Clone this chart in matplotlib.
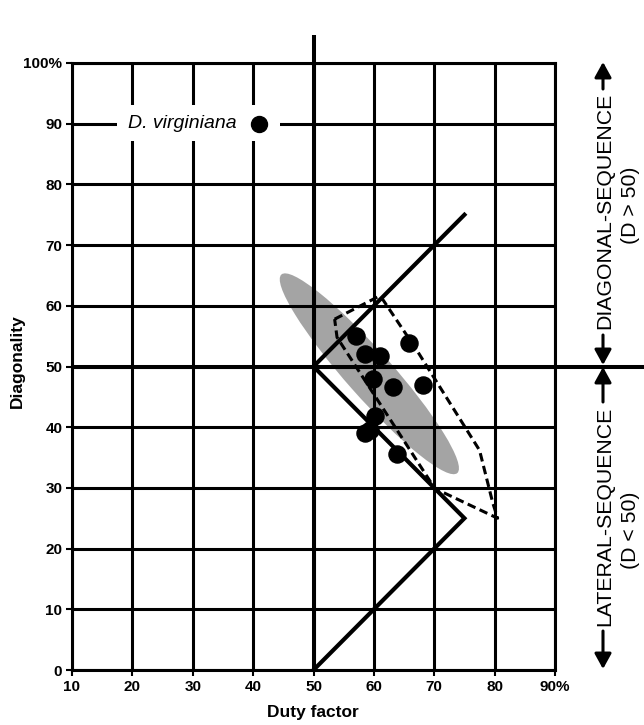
import matplotlib
matplotlib.use("Agg")
import matplotlib.pyplot as plt
from matplotlib.patches import Ellipse, Rectangle, FancyArrowPatch

plt.rcParams['font.family'] = ['Liberation Sans', 'DejaVu Sans']

# ---- data ----
duty_factor = [57.0, 58.5, 61.0, 65.8, 59.8, 63.1, 68.1, 60.2, 59.3, 58.5, 63.8]
diagonality = [55.0, 52.1, 51.7, 53.9, 47.9, 46.6, 47.0, 41.8, 39.5, 39.0, 35.6]

virginiana_df = 41.0
virginiana_d = 90.0
virginiana_label = "D. virginiana"

# solid reference polygon (duty factor, diagonality)
solid_x = [50, 75, 50, 75]
solid_y = [0, 25, 50, 75]

# dashed outline
dashed_x = [53.5, 60.7, 61.5, 67.1, 77.5, 79.7, 80.5, 70.1, 53.9, 53.5]
dashed_y = [57.8, 61.5, 61.0, 52.7, 36.2, 27.5, 25.0, 29.9, 54.8, 57.8]

# grey ellipse (centre, length, width, angle)
ell_center = (59.25, 48.8)
ell_length = 43.8
ell_width = 7.6
ell_angle = -48.3

x_ticks = [10, 20, 30, 40, 50, 60, 70, 80, 90]
x_ticklabels = ['10', '20', '30', '40', '50', '60', '70', '80', '90%']
y_ticks = [0, 10, 20, 30, 40, 50, 60, 70, 80, 90, 100]
y_ticklabels = ['0', '10', '20', '30', '40', '50', '60', '70', '80', '90', '100%']

W, H = 644, 725
fig = plt.figure(figsize=(W / 100, H / 100), dpi=100)
ax = fig.add_axes([72 / W, (H - 670) / H, 483 / W, 607 / H])
ax.set_xlim(10, 90)
ax.set_ylim(0, 100)

ax.set_xticks(x_ticks)
ax.set_xticklabels(x_ticklabels)
ax.set_yticks(y_ticks)
ax.set_yticklabels(y_ticklabels)
ax.tick_params(axis='both', length=4, width=1.5, pad=3, labelsize=11, color='black')
for lab in ax.get_xticklabels() + ax.get_yticklabels():
    lab.set_fontweight('bold')

ax.set_axisbelow(True)
ax.grid(True, color='black', linewidth=2.2)
for s in ax.spines.values():
    s.set_linewidth(2.2)
    s.set_color('black')

# grey ellipse under the grid
ax.add_patch(Ellipse(ell_center, ell_length, ell_width, angle=ell_angle,
                     facecolor='#a4a4a4', edgecolor='none', zorder=0.2))

# thick central lines extending beyond the axes
ax.plot([50, 50], [0, 104.6], color='black', lw=2.9, clip_on=False, zorder=2,
        solid_capstyle='butt')
ax.plot([10, 104.8], [50, 50], color='black', lw=2.9, clip_on=False, zorder=2,
        solid_capstyle='butt')

# white box behind the label
ax.add_patch(Rectangle((17.5, 87.2), 44.4 - 17.5, 93.1 - 87.2, facecolor='white',
                       edgecolor='none', zorder=1))
ax.text(19.2, 90, virginiana_label, style='italic', fontsize=14,
        ha='left', va='center', zorder=3)
ax.plot([virginiana_df], [virginiana_d], 'o', color='black', ms=11.5, zorder=5)

# polygons
ax.plot(dashed_x, dashed_y, color='black', lw=2.2, linestyle=(0, (2.8, 1.5)), zorder=3)
ax.plot(solid_x, solid_y, color='black', lw=3.0, zorder=4, solid_joinstyle='miter')

# data points
ax.plot(duty_factor, diagonality, 'o', color='black', ms=12.3, zorder=5)

# axis labels
fig.text(17 / W, 1 - 361 / H, 'Diagonality', rotation=90, ha='center', va='center',
         fontsize=12.5, fontweight='bold')
fig.text(313 / W, 1 - 712 / H, 'Duty factor', ha='center', va='center',
         fontsize=12.5, fontweight='bold')

# right-hand annotations
def fp(x, y):
    return (x / W, 1 - y / H)

fig.text(*fp(605, 210.5), 'DIAGONAL-SEQUENCE', rotation=90, ha='center', va='center',
         fontsize=15.3)
fig.text(*fp(630, 205), '(D > 50)', rotation=90, ha='center', va='center', fontsize=15.3)
fig.text(*fp(605, 516), 'LATERAL-SEQUENCE', rotation=90, ha='center', va='center',
         fontsize=15.3)
fig.text(*fp(630, 530), '(D < 50)', rotation=90, ha='center', va='center', fontsize=15.3)

for (y0, y1) in [(89, 62), (335, 365), (402, 367), (631, 669)]:
    fig.add_artist(FancyArrowPatch(fp(603, y0), fp(603, y1), transform=fig.transFigure,
                                   arrowstyle='-|>,head_length=0.4,head_width=0.22',
                                   mutation_scale=23, lw=2.2, color='black',
                                   shrinkA=0, shrinkB=0))

fig.savefig('out.png', dpi=100)
